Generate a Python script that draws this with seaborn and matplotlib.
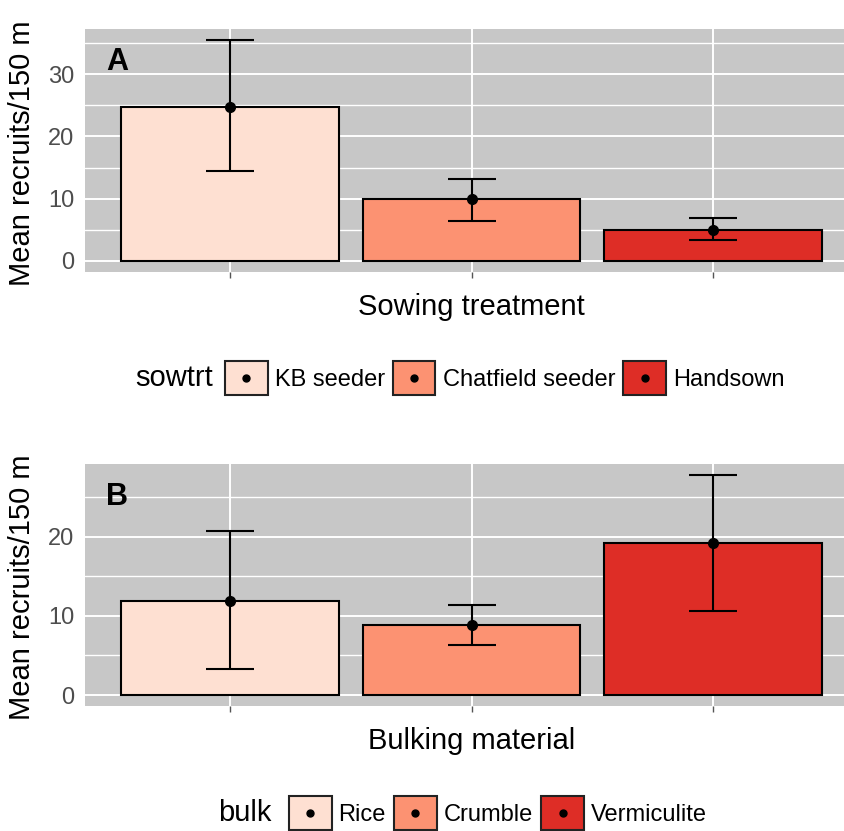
import numpy as np
import pandas as pd
import matplotlib
matplotlib.use("Agg")
import matplotlib.pyplot as plt
from matplotlib.patches import Patch
from matplotlib.lines import Line2D
from matplotlib.legend_handler import HandlerLine2D
from matplotlib.ticker import MultipleLocator
import seaborn as sns

# -----------------------------
# Data
# -----------------------------
sow_levels = ["KB seeder", "Chatfield seeder", "Handsown"]
sow_mean = [24.8, 10.0, 4.95]
sow_lo = [14.5, 6.45, 3.3]
sow_hi = [35.5, 13.2, 6.85]

bulk_levels = ["Rice", "Crumble", "Vermiculite"]
bulk_mean = [11.9, 8.85, 19.2]
bulk_lo = [3.3, 6.3, 10.6]
bulk_hi = [20.75, 11.4, 27.8]

palette = ["#FEE0D2", "#FC9272", "#DE2D26"]

# -----------------------------
# Style
# -----------------------------
sns.set_style("white")
plt.rcParams["font.family"] = ["Liberation Sans", "DejaVu Sans"]
plt.rcParams["text.color"] = "black"
plt.rcParams["axes.labelcolor"] = "black"

PANEL_BG = "#C7C7C7"
TICK_COL = "#4D4D4D"

fig = plt.figure(figsize=(8.44, 8.31), dpi=100)
W, H = 844, 831


def px_axes(left, top, right, bottom):
    return [left / W, 1 - bottom / H, (right - left) / W, (bottom - top) / H]


class CenterDot(HandlerLine2D):
    """Put the legend dot in the middle of the key box"""
    def create_artists(self, legend, orig_handle, xdescent, ydescent,
                       width, height, fontsize, trans):
        dot = Line2D([width / 2 - xdescent], [height / 2 - ydescent],
                     marker="o", color="black", linestyle="", markersize=5)
        dot.set_transform(trans)
        return [dot]


def draw_panel(ax, levels, mean, lo, hi, var, xlabel, tag):
    df = pd.DataFrame({var: levels, "mean": mean})
    sns.barplot(data=df, x=var, y="mean", hue=var, palette=palette,
                hue_order=levels, order=levels, width=0.9, saturation=1,
                edgecolor="black", linewidth=1.5, errorbar=None,
                legend=False, ax=ax, zorder=2)
    xs = np.arange(len(levels))
    m = np.array(mean)
    yerr = [m - np.array(lo), np.array(hi) - m]
    ax.errorbar(xs, m, yerr=yerr, fmt="o", color="black", ecolor="black",
                elinewidth=1.5, capsize=17, capthick=1.5, markersize=7,
                zorder=3)

    top = max(hi)
    ax.set_ylim(-0.05 * top, 1.05 * top)
    ax.set_xlim(-0.6, len(levels) - 0.4)
    ax.set_facecolor(PANEL_BG)
    for s in ax.spines.values():
        s.set_visible(False)
    ax.yaxis.set_major_locator(MultipleLocator(10))
    ax.yaxis.set_minor_locator(MultipleLocator(5))
    ax.set_axisbelow(True)
    ax.grid(which="major", color="white", linewidth=1.4)
    ax.grid(which="minor", axis="y", color="white", linewidth=1.0)
    ax.tick_params(axis="both", which="major", length=4.5, width=1.0,
                   color="#555555", labelcolor=TICK_COL, labelsize=17, pad=3)
    ax.tick_params(axis="y", which="minor", length=0)
    ax.tick_params(axis="x", labelbottom=False, bottom=True)
    ax.set_xticks(xs)

    ax.set_ylabel("Mean recruits/150 m", fontsize=21)
    ax.yaxis.set_label_coords(-0.064, 0.49)
    ax.set_xlabel(xlabel, fontsize=21)
    ax.xaxis.set_label_coords(0.5, -0.085)
    ax.text(0.027, 0.925, tag, transform=ax.transAxes, fontsize=22,
            fontweight="bold", ha="left", va="top", color="black")


def draw_legend(title, levels, title_x, key_x, y_px):
    yc = 1 - y_px / H
    fig.text(title_x / W, yc, title, fontsize=21, ha="left", va="center")
    handles = []
    for col in palette:
        handles.append((Patch(facecolor=col, edgecolor="#222222", linewidth=1.5),
                        Line2D([], [], marker="o", color="black", linestyle="")))
    fig.legend(handles, levels, loc="center left",
               bbox_to_anchor=(key_x / W, yc), ncol=len(levels),
               frameon=False, fontsize=17, handlelength=1.8, handleheight=1.8,
               handletextpad=0.3, columnspacing=0.35, borderpad=0,
               borderaxespad=0, labelcolor="black",
               handler_map={Line2D: CenterDot()})


axA = fig.add_axes(px_axes(85, 29, 858, 272))
draw_panel(axA, sow_levels, sow_mean, sow_lo, sow_hi, "sowtrt",
           "Sowing treatment", "A")

axB = fig.add_axes(px_axes(85, 464, 858, 706))
draw_panel(axB, bulk_levels, bulk_mean, bulk_lo, bulk_hi, "bulk",
           "Bulking material", "B")

draw_legend("sowtrt", sow_levels, 135, 225, 378)
draw_legend("bulk", bulk_levels, 218, 289, 813)

fig.savefig("out.png", dpi=100)
